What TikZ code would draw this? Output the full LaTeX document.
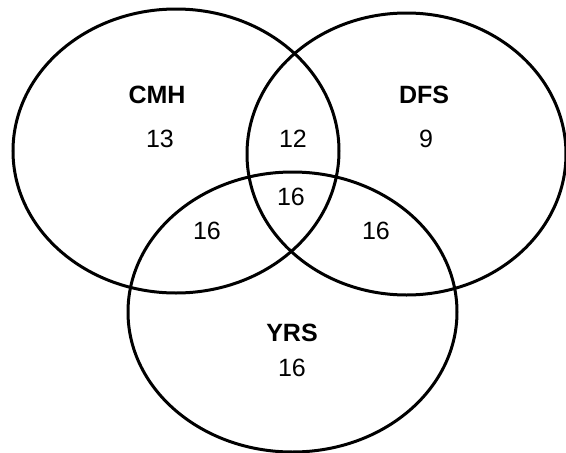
\documentclass[tikz,border=0pt]{standalone}
\usepackage{fontspec}
\setmainfont{Liberation Sans}
\begin{document}
\begin{tikzpicture}[x=1pt,y=-1pt,
  setline/.style={draw=black,line width=3pt},
  lbl/.style={anchor=base,inner sep=0pt,font=\fontsize{25}{30}\selectfont\bfseries},
  num/.style={anchor=base,inner sep=0pt,font=\fontsize{25}{30}\selectfont}]
\useasboundingbox (0,0) rectangle (566,453);
\draw[setline] (176,151) ellipse [x radius=163, y radius=142];
\draw[setline] (406.5,154) ellipse [x radius=159.5, y radius=141];
\draw[setline] (292.5,312) ellipse [x radius=164.5, y radius=140];
\node[lbl] (cmh) at (157,103) {CMH};
\node[num] (ncmh) at (160,147) {13};
\node[lbl] (dfs) at (424,103) {DFS};
\node[num] (ndfs) at (426,147) {9};
\node[num] (ncd) at (293,147) {12};
\node[num] (nall) at (291,205) {16};
\node[num] (ncy) at (207,239) {16};
\node[num] (ndy) at (376,239) {16};
\node[lbl] (yrs) at (292,341) {YRS};
\node[num] (nyrs) at (292,376) {16};
\end{tikzpicture}
\end{document}
